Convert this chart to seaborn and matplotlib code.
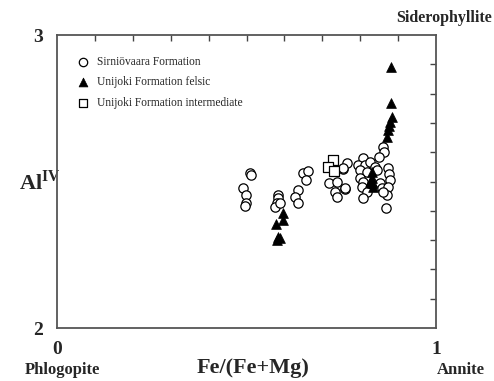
import pandas as pd
from matplotlib import pyplot as plt
from matplotlib.ticker import MultipleLocator, FixedLocator
import seaborn as sns

# Sirniövaara Formation (open circles)
sirn_x = [0.509, 0.512, 0.491, 0.499, 0.499, 0.496, 0.583, 0.583, 0.580, 0.575,
          0.588, 0.649, 0.662, 0.657, 0.636, 0.628, 0.636, 0.755, 0.765, 0.718,
          0.739, 0.733, 0.739, 0.760, 0.860, 0.863, 0.850, 0.807, 0.794, 0.813,
          0.826, 0.799, 0.818, 0.839, 0.844, 0.873, 0.876, 0.799, 0.807, 0.805,
          0.818, 0.807, 0.852, 0.858, 0.879, 0.873, 0.871, 0.860, 0.868, 0.755,
          0.760]
sirn_y = [2.529, 2.522, 2.478, 2.454, 2.427, 2.416, 2.454, 2.444, 2.427, 2.413,
          2.427, 2.529, 2.536, 2.505, 2.471, 2.447, 2.427, 2.543, 2.563, 2.495,
          2.498, 2.464, 2.447, 2.474, 2.618, 2.601, 2.584, 2.580, 2.556, 2.556,
          2.567, 2.539, 2.532, 2.549, 2.539, 2.546, 2.526, 2.512, 2.498, 2.481,
          2.464, 2.444, 2.495, 2.478, 2.505, 2.481, 2.454, 2.464, 2.410, 2.546,
          2.478]

# Unijoki Formation felsic (filled triangles)
fels_x = [0.596, 0.596, 0.578, 0.583, 0.588, 0.580, 0.881, 0.881, 0.884, 0.879,
          0.876, 0.873, 0.871, 0.831, 0.831, 0.831, 0.834, 0.826]
fels_y = [2.392, 2.369, 2.355, 2.311, 2.307, 2.300, 2.891, 2.768, 2.720, 2.703,
          2.689, 2.676, 2.652, 2.532, 2.512, 2.495, 2.481, 2.498]

# Unijoki Formation intermediate (open squares)
inter_x = [0.728, 0.715, 0.731]
inter_y = [2.573, 2.549, 2.536]

sns.set_style("white")
plt.rcParams['font.family'] = ['Liberation Serif', 'DejaVu Serif']
plt.rcParams['mathtext.fontset'] = 'custom'
plt.rcParams['mathtext.rm'] = 'Liberation Serif'
plt.rcParams['mathtext.bf'] = 'Liberation Serif:bold'

fig = plt.figure(figsize=(4.94, 3.81), dpi=100)
ax = fig.add_axes([0.1154, 0.1391, 0.7672, 0.769])

sns.scatterplot(x=sirn_x, y=sirn_y, ax=ax, marker="o", s=45,
                facecolor="white", edgecolor="black", linewidth=0.9,
                label="Sirniövaara Formation", zorder=2)
sns.scatterplot(x=fels_x, y=fels_y, ax=ax, marker="^", s=50,
                color="black", edgecolor="black", linewidth=0.5,
                label="Unijoki Formation felsic", zorder=3)
sns.scatterplot(x=inter_x, y=inter_y, ax=ax, marker="s", s=45,
                facecolor="white", edgecolor="black", linewidth=0.9,
                label="Unijoki Formation intermediate", zorder=2)

ax.set_xlim(0, 1)
ax.set_ylim(2, 3)
ax.xaxis.set_major_locator(FixedLocator([0, 1]))
ax.yaxis.set_major_locator(FixedLocator([2, 3]))
ax.xaxis.set_minor_locator(MultipleLocator(0.1))
ax.yaxis.set_minor_locator(MultipleLocator(0.1))
ax.set_xticklabels(["0", "1"], fontsize=14, fontweight="bold")
ax.set_yticklabels(["2", "3"], fontsize=14, fontweight="bold")
ax.tick_params(which="both", direction="in", top=True, right=True,
               color="#444444", width=1)
ax.tick_params(which="major", length=0)
ax.tick_params(axis="x", which="major", pad=9)
ax.tick_params(axis="y", which="major", pad=10)
ax.tick_params(which="minor", length=4)
for sp in ax.spines.values():
    sp.set_color("#555555")
    sp.set_linewidth(1.3)

ax.set_xlabel("Fe/(Fe+Mg)", fontsize=16, fontweight="bold", va="center")
ax.xaxis.set_label_coords(0.517, -0.137)
ax.set_ylabel(r"$\mathbf{Al}^{\mathbf{IV}}$", fontsize=16,
              rotation=0, va="center", ha="center")
ax.yaxis.set_label_coords(-0.045, 0.495)

fig.text(0.126, 0.029, "Phlogopite", fontsize=12, fontweight="bold",
         ha="center", va="center")
fig.text(0.933, 0.029, "Annite", fontsize=12, fontweight="bold",
         ha="center", va="center")
fig.text(0.898, 0.952, "Siderophyllite", fontsize=11.5, fontweight="bold",
         ha="center", va="center")

ax.legend(loc="upper left", frameon=False, fontsize=8.3,
          bbox_to_anchor=(0.01, 0.965), handletextpad=0.2, labelspacing=0.75,
          markerscale=0.9)

fig.savefig("out.png", dpi=100)
